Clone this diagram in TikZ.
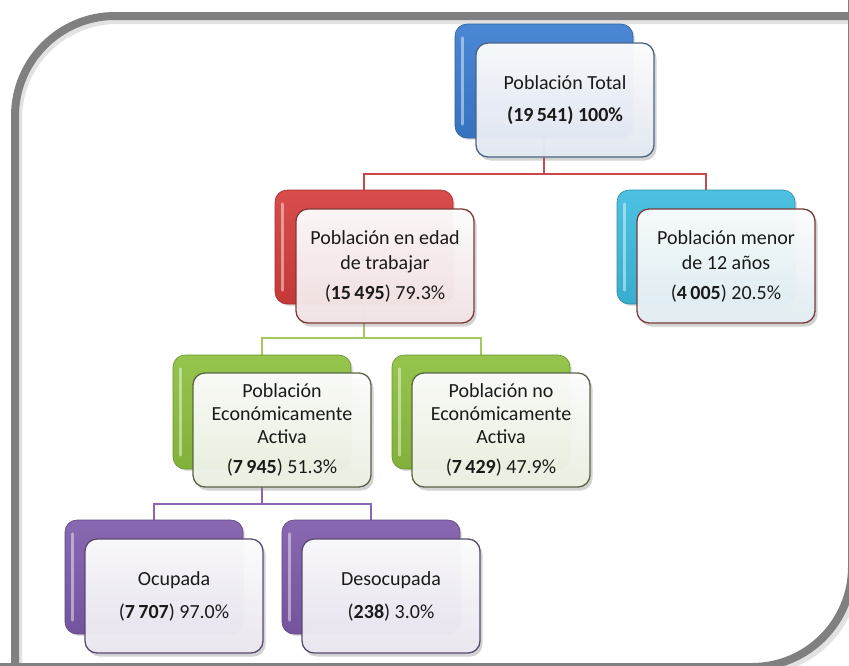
\documentclass[tikz,border=0pt]{standalone}
\usepackage{fontspec}
\setmainfont{Carlito}
\usetikzlibrary{shadows}
\pgfdeclarelayer{bg}
\pgfsetlayers{bg,main}
\definecolor{framegray}{HTML}{808080}
\definecolor{cblue}{HTML}{3B7DD0}
\definecolor{cred}{HTML}{D63D3D}
\definecolor{ccyan}{HTML}{3DBCE0}
\definecolor{cgreen}{HTML}{8DC03F}
\definecolor{cpurple}{HTML}{7E5BAA}
\definecolor{bblue}{HTML}{4B6585}
\definecolor{bred}{HTML}{803A3A}
\definecolor{bcyan}{HTML}{7A3A3A}
\definecolor{bgreen}{HTML}{5A6448}
\definecolor{bpurple}{HTML}{5A4A6E}
\definecolor{fblue}{HTML}{E4EAF3}
\definecolor{fred}{HTML}{F3E4E4}
\definecolor{fcyan}{HTML}{E3EFF4}
\definecolor{fgreen}{HTML}{ECF2E3}
\definecolor{fpurple}{HTML}{EBE8F2}
\definecolor{lred}{HTML}{C8484A}
\definecolor{lgreen}{HTML}{A4C95C}
\definecolor{lpurple}{HTML}{8A67B2}
\definecolor{txt}{HTML}{1A1A1A}
\begin{document}
\begin{tikzpicture}[x=1pt,y=-1pt,
  backbox/.style={rounded corners=12pt, minimum width=178pt, minimum height=114pt,
    inner sep=0pt, draw=#1!75!black, line width=0.6pt,
    top color=#1!92!white, bottom color=#1!92!black,
    drop shadow={shadow xshift=2pt,shadow yshift=-2pt,opacity=0.25}},
  frontbox/.style 2 args={rounded corners=12pt, minimum width=178pt, minimum height=114pt,
    inner sep=0pt, draw=#1, line width=1.3pt,
    top color=white, bottom color=#2, fill opacity=0.95, text opacity=1,
    align=center, text=txt, font=\fontsize{20}{25}\selectfont,
    drop shadow={shadow xshift=2.5pt,shadow yshift=-3.5pt,opacity=0.35}},
  gloss/.style={white, line width=2.5pt, opacity=0.45, line cap=round},
  conn/.style={line width=2.5pt, #1}
]
\path[use as bounding box] (0,0) rectangle (849,665);

% frame
\begin{pgfonlayer}{bg}
\begin{scope}
\clip (0,0) rectangle (849,665);
\draw[line width=10pt, gray!45, opacity=0.5, xshift=2pt, yshift=-3pt]
  (15,700) -- (15,116) .. controls (15,60.8) and (59.8,16) .. (115,16) -- (900,16);
\draw[line width=10pt, gray!45, opacity=0.5, xshift=3pt, yshift=-3pt]
  (-20,667) -- (752,667) .. controls (807.2,667) and (852,622.2) .. (852,567) -- (852,-20);
\draw[line width=8pt, framegray]
  (15,700) -- (15,116) .. controls (15,60.8) and (59.8,16) .. (115,16) -- (900,16);
\draw[line width=8pt, framegray]
  (-20,667) -- (752,667) .. controls (807.2,667) and (852,622.2) .. (852,567) -- (852,-20);
\end{scope}
\end{pgfonlayer}

% back boxes
\node[backbox=cblue]   (tb) at (544,81) {};
\node[backbox=cred]    (rb) at (364,247) {};
\node[backbox=ccyan]   (cb) at (706,247) {};
\node[backbox=cgreen]  (ab) at (262,412) {};
\node[backbox=cgreen]  (nb) at (481,412) {};
\node[backbox=cpurple] (ob) at (154,577) {};
\node[backbox=cpurple] (db) at (371,577) {};

\foreach \n in {tb,rb,cb,ab,nb,ob,db}{
  \draw[gloss] ([xshift=8pt,yshift=-14pt]\n.north west) -- ([xshift=8pt,yshift=14pt]\n.south west);
}

% front boxes
\node[frontbox={bblue}{fblue}] (t) at (565,100)
  {Población Total\\[7pt]\textbf{(19\,541) 100\%}};
\node[frontbox={bred}{fred}] (r) at (385,266)
  {Población en edad\\de trabajar\\[5pt](\textbf{15\,495}) 79.3\%};
\node[frontbox={bcyan}{fcyan}] (c) at (726,266)
  {Población menor\\de 12 años\\[5pt](\textbf{4\,005}) 20.5\%};
\node[frontbox={bgreen}{fgreen}, font=\fontsize{20}{23}\selectfont] (a) at (282,430)
  {Población\\Económicamente\\Activa\\[7pt](\textbf{7\,945}) 51.3\%};
\node[frontbox={bgreen}{fgreen}, font=\fontsize{20}{23}\selectfont] (n) at (501,430)
  {Población no\\Económicamente\\Activa\\[7pt](\textbf{7\,429}) 47.9\%};
\node[frontbox={bpurple}{fpurple}] (o) at (174,596)
  {Ocupada\\[8pt](\textbf{7\,707}) 97.0\%};
\node[frontbox={bpurple}{fpurple}] (d) at (391,596)
  {Desocupada\\[8pt](\textbf{238}) 3.0\%};

% connectors
\coordinate (j1) at (544,174);
\coordinate (j2) at (364,338);
\coordinate (j3) at (262,504);
\begin{pgfonlayer}{bg}
\draw[conn=lred] (tb.center) -- (j1) -| (rb.north);
\draw[conn=lred] (j1) -| (cb.north);
\draw[conn=lgreen] (rb.center) -- (j2) -| (ab.north);
\draw[conn=lgreen] (j2) -| (nb.north);
\draw[conn=lpurple] (ab.center) -- (j3) -| (ob.north);
\draw[conn=lpurple] (j3) -| (db.north);
\end{pgfonlayer}
\end{tikzpicture}
\end{document}
